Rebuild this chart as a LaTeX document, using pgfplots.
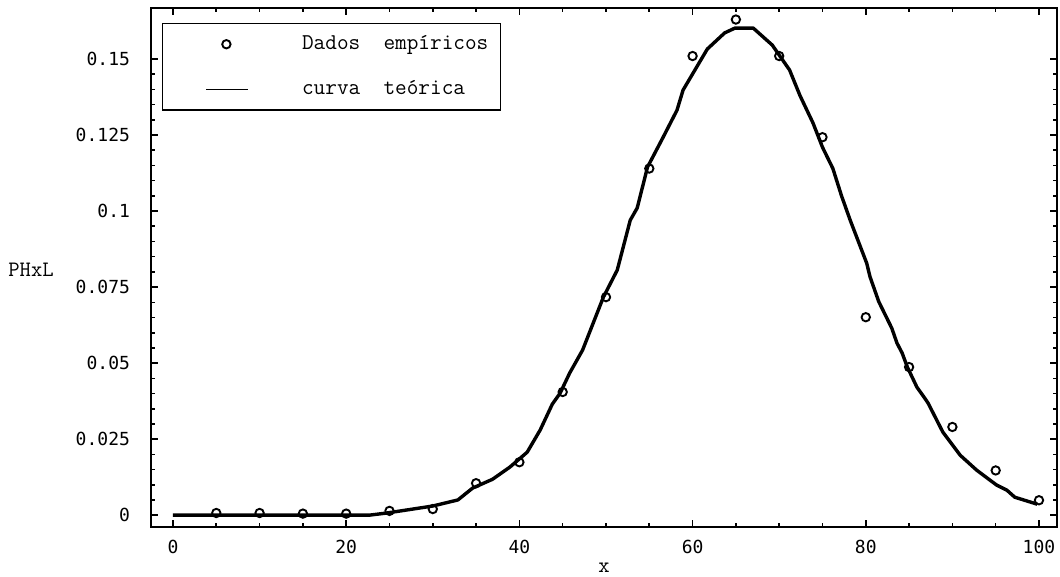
\documentclass[border=0pt]{standalone}
\usepackage{fontspec}
\newfontfamily\ticksfont{DejaVu Sans Mono}
\usepackage{pgfplots}
\pgfplotsset{compat=1.18}
\pgfplotsset{
  markleg/.style={legend image code/.code={\path (0pt,-2pt) (38pt,2pt);
        \draw[##1] plot coordinates {(27pt,0pt)};}},
  lineleg/.style={legend image code/.code={\path (0pt,-2pt) (38pt,2pt);
        \draw[##1, line width=0.8pt] (17pt,0pt) -- (38pt,0pt);}},
}

\begin{document}
\begin{tikzpicture}
\begin{axis}[
    scale only axis,
    width=453pt, height=259.5pt,
    xmin=-2.54, xmax=102.08,
    ymin=-0.0039, ymax=0.1668,
    axis line style={line width=1.2pt},
    tick align=inside,
    xtick={0,20,40,60,80,100},
    xticklabels={0,20,40,60,80,100},
    minor x tick num=3,
    ytick={0,0.025,0.05,0.075,0.1,0.125,0.15},
    yticklabels={0,0.025,0.05,0.075,0.1,0.125,0.15},
    minor y tick num=4,
    scaled y ticks=false,
    major tick length=3.5pt,
    minor tick length=1.8pt,
    every tick/.style={black, line width=0.8pt},
    ticklabel style={font=\ticksfont\fontsize{9}{10}\selectfont},
    yticklabel style={xshift=-7pt},
    xticklabel style={yshift=-3pt},
    /pgf/number format/assume math mode=true,
    xlabel={x},
    xlabel style={font=\ttfamily\fontsize{11}{12}\selectfont, yshift=2pt},
    ylabel={PHxL},
    every axis y label/.style={at={(rel axis cs:0,0.5)}, anchor=west, xshift=-71.5pt,
        yshift=-1pt, inner sep=0pt, font=\ttfamily\fontsize{11}{12}\selectfont},
    legend cell align=left,
    legend style={at={(rel axis cs:0,1)}, anchor=north west, xshift=5.5pt, yshift=-7.5pt,
        draw=black, line width=0.7pt, inner xsep=4pt, inner ysep=4pt,
        font=\ttfamily\fontsize{11.3}{12}\selectfont, row sep=10pt,
        /tikz/column 1/.style={column sep=24pt}},
]
\addplot[black, line width=0.95pt, only marks, mark=o, mark size=2.1pt, markleg]
coordinates {
(5,0.0007) (10,0.0007) (15,0.0005) (20,0.0005) (25,0.0014) (30,0.002)
(35,0.0105) (40,0.0174) (45,0.0405) (50,0.0717) (55,0.114) (60,0.151)
(65,0.163) (70,0.151) (75,0.1243) (80,0.0651) (85,0.0487) (90,0.029)
(95,0.0147) (100,0.0049)
};
\addlegendentry{Dados\ \ empíricos}
\addplot[black, line width=1.7pt, line join=round, mark=none, lineleg]
coordinates {
(0,0) (19.3,0) (22.7,0) (24.7,0.0007) (27.7,0.002) (30,0.003) (32.9,0.005)
(34.6,0.0089) (36.9,0.0118) (38.9,0.0158) (40.9,0.0207) (42.4,0.028)
(43.8,0.0365) (44.7,0.0401) (45.8,0.0467) (47.3,0.0543) (49.7,0.0717)
(51.3,0.0806) (52.8,0.097) (53.6,0.101) (54.8,0.1145) (56.6,0.1243)
(58.2,0.1332) (58.9,0.1398) (61.7,0.1533) (63.7,0.1586) (64.9,0.1602)
(67.0,0.1602) (69.2,0.1546) (71.2,0.1464) (72.4,0.138) (73.9,0.129)
(75.0,0.121) (76.2,0.114) (77.2,0.105) (78.2,0.097) (80.1,0.0829)
(80.5,0.0783) (81.5,0.0702) (83.0,0.0615) (83.6,0.0566) (84.2,0.0533)
(84.8,0.0487) (85.9,0.0421) (86.8,0.0385) (87.2,0.0368) (88.9,0.0273)
(90.9,0.0197) (92.8,0.0148) (95.1,0.0099) (96.3,0.0082) (97.2,0.0059)
(99.8,0.0036)
};
\addlegendentry{curva\ \ teórica}
\end{axis}
\pgfresetboundingbox
\path (current axis.south west) ++(-75.5pt,-25pt) rectangle ([shift={(1.5pt,4pt)}]current axis.north east);
\end{tikzpicture}
\end{document}
